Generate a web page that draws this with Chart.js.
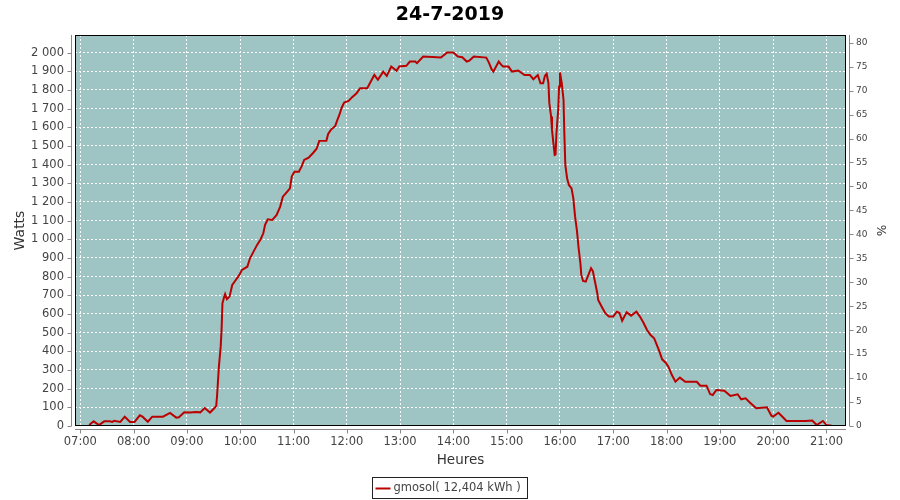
<!DOCTYPE html>
<html>
<head>
<meta charset="utf-8">
<script src="https://cdn.jsdelivr.net/npm/chart.js@4/dist/chart.umd.min.js"></script>
<style>
html,body{margin:0;padding:0;background:#fff;}
#wrap{width:900px;height:500px;position:relative;}
</style>
</head>
<body>
<div id="wrap"><canvas id="c" width="900" height="500"></canvas></div>
<script>
// ---- data ----
const chartTitle = '24-7-2019';
const seriesLabel = 'gmosol( 12,404 kWh )';
const times = ['07:10','07:15','07:21','07:27','07:33','07:36','07:38','07:45','07:50','07:56','08:01','08:07','08:10','08:16','08:21','08:33','08:41','08:48','08:51','08:57','09:04','09:10','09:15','09:20','09:26','09:31','09:33','09:34','09:36','09:38','09:39','09:40','09:42','09:43','09:45','09:48','09:51','09:55','09:59','10:02','10:08','10:11','10:15','10:19','10:23','10:26','10:28','10:31','10:36','10:41','10:45','10:48','10:52','10:56','10:58','11:01','11:06','11:09','11:12','11:17','11:22','11:26','11:29','11:37','11:39','11:42','11:47','11:49','11:52','11:54','11:57','12:02','12:06','12:11','12:15','12:23','12:27','12:31','12:35','12:41','12:45','12:50','12:56','12:59','13:07','13:11','13:17','13:19','13:26','13:46','13:53','14:00','14:05','14:10','14:15','14:18','14:23','14:37','14:40','14:43','14:45','14:51','14:54','14:56','15:02','15:06','15:13','15:20','15:26','15:30','15:35','15:38','15:41','15:43','15:45','15:47','15:48','15:50','15:51','15:53','15:54','15:55','15:56','15:58','15:59','16:00','16:02','16:04','16:05','16:06','16:08','16:10','16:13','16:15','16:17','16:19','16:21','16:23','16:24','16:26','16:29','16:32','16:35','16:37','16:39','16:42','16:43','16:47','16:51','16:55','17:00','17:04','17:07','17:10','17:15','17:20','17:26','17:30','17:34','17:38','17:42','17:46','17:49','17:52','17:55','17:59','18:02','18:06','18:10','18:15','18:21','18:34','18:38','18:45','18:49','18:52','18:56','19:05','19:12','19:20','19:24','19:29','19:34','19:41','19:53','19:58','20:00','20:06','20:11','20:15','20:21','20:36','20:44','20:49','20:56','21:00','21:06'];
const watts = [5,25,5,25,25,22,28,22,50,22,22,57,50,23,50,50,70,45,47,73,72,75,73,96,72,96,108,166,318,425,514,657,693,707,679,693,755,782,809,836,853,898,934,970,1000,1032,1077,1107,1103,1130,1175,1228,1250,1273,1336,1362,1362,1389,1425,1437,1462,1485,1527,1528,1564,1586,1607,1634,1671,1702,1732,1741,1761,1782,1809,1809,1845,1880,1854,1898,1875,1925,1902,1925,1929,1952,1952,1943,1979,1973,2000,2000,1979,1975,1952,1957,1979,1973,1946,1911,1898,1952,1934,1925,1925,1898,1904,1880,1880,1857,1880,1836,1836,1875,1886,1836,1729,1657,1586,1496,1452,1455,1568,1693,1818,1893,1836,1746,1550,1398,1327,1291,1273,1220,1121,1050,952,871,809,777,773,809,845,830,782,711,675,639,604,586,586,612,605,564,609,591,612,586,553,514,487,470,434,398,357,339,318,273,237,259,237,237,216,216,171,166,193,189,161,170,143,148,125,95,100,55,50,71,47,27,27,27,29,5,27,5,2];
const hourTicks = ['07:00','08:00','09:00','10:00','11:00','12:00','13:00','14:00','15:00','16:00','17:00','18:00','19:00','20:00','21:00'];
const wattTicks = [0,100,200,300,400,500,600,700,800,900,1000,1100,1200,1300,1400,1500,1600,1700,1800,1900,2000];
const pctTicks = [0,5,10,15,20,25,30,35,40,45,50,55,60,65,70,75,80];

// ---- helpers ----
const toMin = s => { const p = s.split(':'); return (+p[0]) * 60 + (+p[1]); };
const fmtTime = v => { const h = Math.floor(v / 60), m = Math.round(v % 60); return String(h).padStart(2,'0') + ':' + String(m).padStart(2,'0'); };
const fmtThousands = v => String(v).replace(/\B(?=(\d{3})+(?!\d))/g, ' ');
const points = times.map((t, i) => ({ x: toMin(t), y: watts[i] }));

const FONT = 'DejaVu Sans';
const AXIS_GRAY = '#888888';
const LINE_RED = '#bb0000';

const framePlugin = {
  id: 'frame',
  beforeDraw(chart) {
    const { ctx, chartArea: a } = chart;
    ctx.save();
    ctx.fillStyle = '#9ec4c4';
    ctx.fillRect(a.left, a.top, a.right - a.left, a.bottom - a.top);
    ctx.restore();
  },
  afterDraw(chart) {
    const { ctx, chartArea: a, scales } = chart;
    ctx.save();
    // plot border
    ctx.strokeStyle = '#000';
    ctx.lineWidth = 1;
    ctx.strokeRect(a.left + 0.5, a.top + 0.5, a.right - a.left - 1, a.bottom - a.top - 1);
    // offset axis lines
    ctx.strokeStyle = AXIS_GRAY;
    ctx.beginPath();
    const lx = a.left - 3.5;
    ctx.moveTo(lx, a.top); ctx.lineTo(lx, a.bottom);
    scales.y.ticks.forEach(t => { const py = Math.round(scales.y.getPixelForValue(t.value)) + 0.5; ctx.moveTo(lx - 4, py); ctx.lineTo(lx, py); });
    const rx = a.right + 3.5;
    ctx.moveTo(rx, a.top); ctx.lineTo(rx, a.bottom);
    scales.y2.ticks.forEach(t => { const py = Math.round(scales.y2.getPixelForValue(t.value)) + 0.5; ctx.moveTo(rx, py); ctx.lineTo(rx + 4, py); });
    const by = a.bottom + 3.5;
    ctx.moveTo(a.left, by); ctx.lineTo(a.right, by);
    scales.x.ticks.forEach(t => { const px = Math.round(scales.x.getPixelForValue(t.value)) + 0.5; ctx.moveTo(px, by); ctx.lineTo(px, by + 4); });
    ctx.stroke();
    // legend box
    const ds = chart.data.datasets[0];
    ctx.font = '11.5px "' + FONT + '"';
    const tw = ctx.measureText(ds.label).width;
    const boxW = tw + 28, boxH = 21;
    const bx = Math.round(450 - boxW / 2) + 0.5, byy = 477.5;
    ctx.strokeStyle = '#222';
    ctx.strokeRect(bx, byy, Math.round(boxW), boxH);
    ctx.strokeStyle = ds.borderColor;
    ctx.lineWidth = 2;
    ctx.beginPath();
    ctx.moveTo(bx + 3, byy + 11); ctx.lineTo(bx + 18, byy + 11);
    ctx.stroke();
    ctx.fillStyle = '#444';
    ctx.textBaseline = 'middle';
    ctx.textAlign = 'left';
    ctx.fillText(ds.label, bx + 21, byy + 11);
    ctx.restore();
  }
};

new Chart(document.getElementById('c'), {
  type: 'line',
  data: {
    datasets: [{
      label: seriesLabel,
      data: points,
      borderColor: LINE_RED,
      backgroundColor: LINE_RED,
      borderWidth: 2,
      pointRadius: 0,
      tension: 0,
      fill: false,
      yAxisID: 'y'
    }]
  },
  options: {
    responsive: false,
    animation: false,
    events: [],
    layout: { padding: 0 },
    plugins: {
      legend: { display: false },
      tooltip: { enabled: false },
      title: {
        display: true,
        text: chartTitle,
        color: '#000',
        font: { family: FONT, size: 19, weight: 'bold', lineHeight: 1.2 },
        padding: { top: 4, bottom: 8.2 }
      }
    },
    scales: {
      x: {
        type: 'linear',
        position: 'bottom',
        min: 414,
        max: 1282,
        afterBuildTicks: s => { s.ticks = hourTicks.map(h => ({ value: toMin(h) })); },
        afterFit: s => { s.height = 74; },
        ticks: { callback: v => fmtTime(v), color: '#444', font: { family: FONT, size: 11.5 }, padding: 9, autoSkip: false, maxRotation: 0 },
        grid: { color: '#ffffff', lineWidth: 1, drawTicks: false },
        border: { display: false, dash: [2, 2] },
        title: { display: true, text: 'Heures', color: '#333', font: { family: FONT, size: 13.5 }, padding: { top: 0, bottom: 31 } }
      },
      y: {
        type: 'linear',
        position: 'left',
        min: 0,
        max: 2094,
        afterBuildTicks: s => { s.ticks = wattTicks.map(v => ({ value: v })); },
        afterFit: s => { s.width = 75; },
        ticks: { callback: v => fmtThousands(v), color: '#444', font: { family: FONT, size: 11.5 }, padding: 11 },
        grid: { color: '#ffffff', lineWidth: 1, drawTicks: false },
        border: { display: false, dash: [2, 2] },
        title: { display: true, text: 'Watts', color: '#333', font: { family: FONT, size: 14 }, padding: { top: 12, bottom: 0 } }
      },
      y2: {
        type: 'linear',
        position: 'right',
        min: 0,
        max: 81.6,
        afterBuildTicks: s => { s.ticks = pctTicks.map(v => ({ value: v })); },
        afterFit: s => { s.width = 54; },
        ticks: { color: '#444', font: { family: FONT, size: 9 }, padding: 10 },
        grid: { display: false, drawTicks: false },
        border: { display: false },
        title: { display: true, text: '%', color: '#333', font: { family: FONT, size: 12 }, padding: { top: 13, bottom: 0 } }
      }
    }
  },
  plugins: [framePlugin]
});
</script>
</body>
</html>
